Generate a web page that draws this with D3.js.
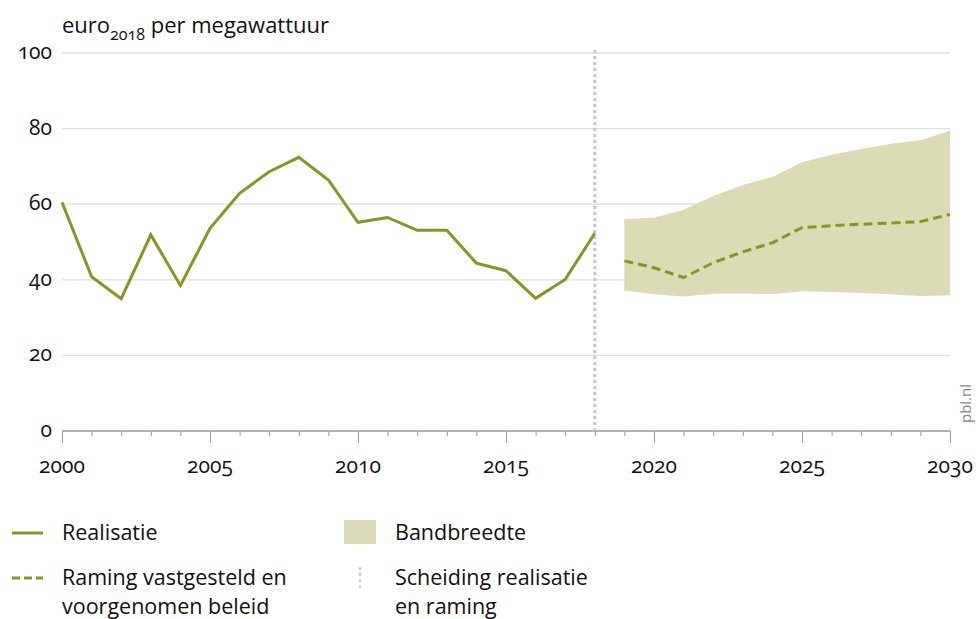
<!DOCTYPE html>
<html>
<head>
<meta charset="utf-8">
<script src="https://cdn.jsdelivr.net/npm/d3@7"></script>
<style>
  body { margin: 0; background: #fff; }
  svg { font-family: "Open Sans", "Noto Sans", sans-serif; font-feature-settings: "onum" 1; font-variant-numeric: oldstyle-nums; }
</style>
</head>
<body>
<div id="chart"></div>
<script>
// data ---------------------------------------------------------------
const realYears = d3.range(2000, 2019);
const realValues = [60.5, 40.8, 35.0, 51.9, 38.5, 53.6, 62.9, 68.6, 72.4, 66.4,
  55.2, 56.5, 53.1, 53.1, 44.4, 42.4, 35.1, 40.1, 52.3];
const projYears = d3.range(2019, 2031);
const projValues = [45.0, 43.2, 40.6, 44.5, 47.4, 49.8, 53.8, 54.3, 54.7, 55.0, 55.4, 57.3];
const bandLow = [37.2, 36.2, 35.6, 36.3, 36.4, 36.2, 37.0, 36.8, 36.5, 36.2, 35.7, 35.9];
const bandHigh = [56.1, 56.4, 58.5, 62.2, 65.1, 67.2, 71.1, 73.1, 74.6, 76.0, 76.9, 79.4];
const yTicks = [0, 20, 40, 60, 80, 100];
const xTicks = [2000, 2005, 2010, 2015, 2020, 2025, 2030];
const splitYear = 2018;

// layout -------------------------------------------------------------
const width = 978, height = 619;
const margin = { top: 53, right: 28, bottom: 188, left: 62 };
const olive = '#8a9520';
const band = '#dbdbb6';

const svg = d3.select('#chart').append('svg')
  .attr('width', width)
  .attr('height', height);

const x = d3.scaleLinear().domain([2000, 2030]).range([margin.left, width - margin.right]);
const y = d3.scaleLinear().domain([0, 100]).range([height - margin.bottom, margin.top]);

// gridlines
svg.append('g')
  .selectAll('line')
  .data(yTicks.filter(d => d > 0))
  .enter()
  .append('line')
  .attr('x1', x(2000))
  .attr('x2', x(2030))
  .attr('y1', d => y(d))
  .attr('y2', d => y(d))
  .attr('stroke', '#dedede')
  .attr('stroke-width', 1.3);

// y labels
svg.append('g')
  .selectAll('text')
  .data(yTicks)
  .enter()
  .append('text')
  .attr('x', 52)
  .attr('y', d => y(d) + 6)
  .attr('text-anchor', 'end')
  .attr('font-size', '21px')
  .attr('fill', '#111')
  .text(d => d);

// band
const area = d3.area()
  .x((d, i) => x(projYears[i]))
  .y0((d, i) => y(bandLow[i]))
  .y1((d, i) => y(bandHigh[i]));
svg.append('path')
  .datum(projYears)
  .attr('d', area)
  .attr('fill', band);

// x axis: minor ticks each year, major ticks every 5
const xAxis = svg.append('g')
  .attr('transform', 'translate(0,' + y(0) + ')');
xAxis.call(d3.axisBottom(x).tickValues(d3.range(2000, 2031)).tickSize(5).tickFormat(''));
xAxis.selectAll('line').attr('stroke', '#999');
xAxis.select('.domain').attr('stroke', '#999').attr('stroke-width', 1.3).attr('d', 'M' + x(2000) + ',0H' + x(2030));
xAxis.selectAll('.tick')
  .filter(d => d % 5 === 0)
  .select('line')
  .attr('y2', 12);
svg.append('g')
  .selectAll('text')
  .data(xTicks)
  .enter()
  .append('text')
  .attr('x', d => x(d))
  .attr('y', y(0) + 42)
  .attr('text-anchor', 'middle')
  .attr('font-size', '21px')
  .attr('fill', '#111')
  .text(d => d);

// separator
svg.append('line')
  .attr('x1', x(splitYear))
  .attr('x2', x(splitYear))
  .attr('y1', margin.top - 3)
  .attr('y2', y(0))
  .attr('stroke', '#c8c8c8')
  .attr('stroke-width', 3)
  .attr('stroke-dasharray', '3,3');

// lines
const line = d3.line()
  .x(d => x(d[0]))
  .y(d => y(d[1]));
svg.append('path')
  .datum(realYears.map((d, i) => [d, realValues[i]]))
  .attr('d', line)
  .attr('fill', 'none')
  .attr('stroke', olive)
  .attr('stroke-width', 3);
svg.append('path')
  .datum(projYears.map((d, i) => [d, projValues[i]]))
  .attr('d', line)
  .attr('fill', 'none')
  .attr('stroke', olive)
  .attr('stroke-width', 3)
  .attr('stroke-dasharray', '9,5');

// title
const title = svg.append('text')
  .attr('x', 62)
  .attr('y', 33)
  .attr('font-size', '22px')
  .attr('fill', '#111');
title.append('tspan').text('euro');
title.append('tspan').attr('dy', 7).attr('font-size', '16px').text('2018');
title.append('tspan').attr('dy', -7).text(' per megawattuur');

// pbl.nl
svg.append('text')
  .attr('transform', 'translate(971,423) rotate(-90)')
  .attr('font-size', '15px')
  .attr('fill', '#888')
  .text('pbl.nl');

// legend
const legend = svg.append('g').attr('font-size', '21.5px').attr('fill', '#111');
legend.append('line')
  .attr('x1', 12).attr('x2', 43).attr('y1', 533).attr('y2', 533)
  .attr('stroke', olive).attr('stroke-width', 3);
legend.append('text').attr('x', 62).attr('y', 540).text('Realisatie');
legend.append('line')
  .attr('x1', 12).attr('x2', 43).attr('y1', 578).attr('y2', 578)
  .attr('stroke', olive).attr('stroke-width', 3).attr('stroke-dasharray', '8,4');
legend.append('text').attr('x', 62).attr('y', 585).text('Raming vastgesteld en');
legend.append('text').attr('x', 62).attr('y', 614).text('voorgenomen beleid');
legend.append('rect')
  .attr('x', 344).attr('y', 520).attr('width', 32).attr('height', 24)
  .attr('fill', band);
legend.append('text').attr('x', 395).attr('y', 540).text('Bandbreedte');
legend.append('line')
  .attr('x1', 360).attr('x2', 360).attr('y1', 567).attr('y2', 591)
  .attr('stroke', '#d0d0d0').attr('stroke-width', 2.5).attr('stroke-dasharray', '3,3');
legend.append('text').attr('x', 395).attr('y', 585).text('Scheiding realisatie');
legend.append('text').attr('x', 395).attr('y', 614).text('en raming');
</script>
</body>
</html>
